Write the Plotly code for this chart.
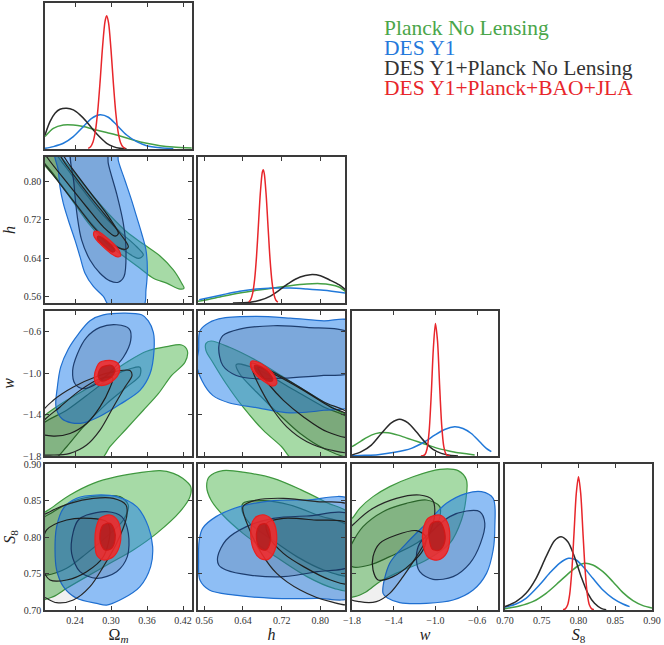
import plotly.graph_objects as go

# ======================= DATA =======================
# axis ranges / ticks
OM_RANGE = [0.19, 0.435]
H_RANGE = [0.547, 0.851]
W_RANGE = [-1.8, -0.4]
S8_RANGE = [0.70, 0.90]
DIAG_RANGE = [0.0, 1.095]

OM_TICKS = [0.24, 0.30, 0.36, 0.42]
OM_TICKTEXT = ["0.24", "0.30", "0.36", "0.42"]
H_TICKS = [0.56, 0.64, 0.72, 0.80]
H_TICKTEXT = ["0.56", "0.64", "0.72", "0.80"]
W_TICKS = [-1.8, -1.4, -1.0, -0.6]
W_TICKTEXT = ["\u22121.8", "\u22121.4", "\u22121.0", "\u22120.6"]
S8_TICKS = [0.70, 0.75, 0.80, 0.85, 0.90]
S8_TICKTEXT = ["0.70", "0.75", "0.80", "0.85", "0.90"]

PARAM_LABELS = ["\u03a9<sub><i>m</i></sub>", "<i>h</i>", "<i>w</i>", "<i>S</i><sub>8</sub>"]
DATASET_NAMES = ["Planck No Lensing", "DES Y1", "DES Y1+Planck No Lensing", "DES Y1+Planck+BAO+JLA"]

# ---- 1D marginals (normalised heights) ----
OM_GREEN_X = [0.19, 0.2039, 0.2206, 0.2372, 0.2539, 0.2706, 0.2928, 0.315, 0.3372, 0.3594, 0.3817, 0.4039, 0.4344]
OM_GREEN_Y = [0.093, 0.155, 0.18, 0.18, 0.168, 0.148, 0.123, 0.098, 0.068, 0.043, 0.025, 0.015, 0.008]
OM_BLUE_X = [0.19, 0.2039, 0.2206, 0.2372, 0.2539, 0.2678, 0.2817, 0.2956, 0.3094, 0.3261, 0.3428, 0.3594, 0.3817, 0.4039]
OM_BLUE_Y = [0.005, 0.018, 0.043, 0.093, 0.168, 0.23, 0.256, 0.238, 0.18, 0.105, 0.055, 0.025, 0.01, 0.003]
OM_BLACK_X = [0.19, 0.1983, 0.2067, 0.215, 0.2261, 0.2372, 0.2483, 0.2594, 0.2706, 0.2817, 0.2928, 0.3039, 0.315, 0.3261]
OM_BLACK_Y = [0.105, 0.205, 0.268, 0.298, 0.306, 0.293, 0.256, 0.205, 0.143, 0.088, 0.043, 0.018, 0.005, 0.0]
OM_RED_X = [0.262, 0.266, 0.270, 0.274, 0.278, 0.282, 0.286, 0.290, 0.2928, 0.296, 0.300, 0.304, 0.308, 0.312, 0.316, 0.320, 0.324]
OM_RED_Y = [0.005, 0.017, 0.053, 0.135, 0.29, 0.517, 0.77, 0.956, 1.0, 0.944, 0.745, 0.49, 0.27, 0.124, 0.047, 0.015, 0.004]

H_GREEN_X = [0.546, 0.56, 0.5983, 0.6331, 0.6679, 0.7027, 0.7375, 0.7723, 0.8001, 0.821, 0.8384, 0.852]
H_GREEN_Y = [0.0125, 0.02, 0.05, 0.075, 0.095, 0.1125, 0.13, 0.1425, 0.145, 0.1375, 0.12, 0.0875]
H_BLUE_X = [0.5496, 0.5983, 0.6331, 0.6679, 0.7027, 0.7375, 0.7723, 0.8071, 0.852]
H_BLUE_Y = [0.025, 0.0625, 0.0875, 0.105, 0.1125, 0.1125, 0.105, 0.095, 0.075]
H_BLACK_X = [0.6192, 0.654, 0.6748, 0.6957, 0.7166, 0.7375, 0.7584, 0.7792, 0.8001, 0.821, 0.8384, 0.852]
H_BLACK_Y = [0.0, 0.005, 0.02, 0.05, 0.1, 0.155, 0.195, 0.2125, 0.205, 0.17, 0.1375, 0.1]
H_RED_X = [0.652, 0.656, 0.660, 0.664, 0.668, 0.672, 0.676, 0.680, 0.6818, 0.684, 0.688, 0.692, 0.696, 0.700, 0.704, 0.708, 0.712]
H_RED_Y = [0.007, 0.025, 0.072, 0.173, 0.348, 0.587, 0.83, 0.982, 1.0, 0.973, 0.808, 0.562, 0.327, 0.16, 0.065, 0.022, 0.006]

W_GREEN_X = [-1.8, -1.7105, -1.6146, -1.5347, -1.4548, -1.359, -1.2631, -1.1672, -1.0713, -0.9755, -0.8796, -0.7837, -0.6878, -0.6239]
W_GREEN_Y = [0.07, 0.115, 0.1575, 0.175, 0.175, 0.1575, 0.1325, 0.1075, 0.0825, 0.0575, 0.04, 0.025, 0.015, 0.0075]
W_BLUE_X = [-1.8, -1.6786, -1.5507, -1.3909, -1.2311, -1.1033, -1.0074, -0.9115, -0.8156, -0.7357, -0.6558, -0.5759, -0.512, -0.4641]
W_BLUE_Y = [0.0025, 0.005, 0.01, 0.0275, 0.0575, 0.1075, 0.1575, 0.2, 0.22, 0.2075, 0.17, 0.1075, 0.0575, 0.0325]
W_BLACK_X = [-1.8, -1.7105, -1.6146, -1.5188, -1.4229, -1.343, -1.2631, -1.1832, -1.1033, -1.0234, -0.9435, -0.8636, -0.7837]
W_BLACK_Y = [0.0075, 0.0325, 0.0825, 0.17, 0.25, 0.2775, 0.25, 0.1825, 0.1075, 0.05, 0.02, 0.005, 0.0]
W_RED_X = [-1.14, -1.12, -1.10, -1.08, -1.06, -1.04, -1.02, -1.00, -0.98, -0.96, -0.94, -0.92, -0.90, -0.88, -0.86]
W_RED_Y = [0.0002, 0.0016, 0.011, 0.055, 0.19, 0.466, 0.81, 1.0, 0.869, 0.535, 0.233, 0.072, 0.016, 0.0024, 0.0003]

S8_GREEN_X = [0.70, 0.7195, 0.7377, 0.7559, 0.7741, 0.7877, 0.7991, 0.8082, 0.8195, 0.8332, 0.8468, 0.8605, 0.8741, 0.8877, 0.90]
S8_GREEN_Y = [0.01, 0.03, 0.0625, 0.125, 0.2125, 0.28, 0.33, 0.35, 0.3375, 0.2875, 0.2125, 0.13, 0.07, 0.0325, 0.015]
S8_BLUE_X = [0.70, 0.715, 0.7286, 0.7468, 0.7605, 0.7741, 0.7864, 0.7968, 0.8082, 0.8195, 0.8332, 0.8468, 0.8605, 0.8695]
S8_BLUE_Y = [0.02, 0.045, 0.0875, 0.1875, 0.275, 0.35, 0.3875, 0.375, 0.3125, 0.2375, 0.15, 0.0875, 0.045, 0.025]
S8_BLACK_X = [0.70, 0.715, 0.7286, 0.7423, 0.7559, 0.7673, 0.7764, 0.7855, 0.7945, 0.8036, 0.8127, 0.8218, 0.8309, 0.8377]
S8_BLACK_Y = [0.025, 0.0625, 0.125, 0.2375, 0.4, 0.52, 0.55, 0.5125, 0.4, 0.25, 0.125, 0.05, 0.0125, 0.0025]
S8_RED_X = [0.779, 0.782, 0.785, 0.788, 0.791, 0.794, 0.797, 0.800, 0.803, 0.806, 0.809, 0.812, 0.815, 0.818, 0.821]
S8_RED_Y = [0.0014, 0.008, 0.035, 0.118, 0.3, 0.586, 0.875, 1.0, 0.875, 0.586, 0.3, 0.118, 0.035, 0.008, 0.0014]

# ---- 2D contour outlines (68% inner / 95% outer), vertices in data units ----
# Omega_m - h
OMH_GREEN_OUT = [(0.1983, 0.8814), (0.215, 0.8538), (0.2428, 0.8124), (0.265, 0.7779), (0.2983, 0.7297), (0.3261, 0.6952), (0.3539, 0.6697), (0.3817, 0.6448), (0.4039, 0.6159), (0.4178, 0.5883), (0.4217, 0.5779), (0.415, 0.5759), (0.3928, 0.5883), (0.3706, 0.5986), (0.3483, 0.6193), (0.3206, 0.6448), (0.2928, 0.671), (0.265, 0.709), (0.2372, 0.7572), (0.2094, 0.8055), (0.1817, 0.8503)]
OMH_GREEN_IN = [(0.1928, 0.878), (0.2206, 0.8366), (0.2539, 0.7814), (0.2872, 0.7297), (0.315, 0.6952), (0.3428, 0.6641), (0.3539, 0.6469), (0.3456, 0.64), (0.3206, 0.6572), (0.2928, 0.6793), (0.265, 0.7159), (0.2344, 0.7641), (0.2039, 0.8159), (0.1844, 0.8503)]
OMH_BLUE_OUT = [(0.2067, 0.871), (0.2122, 0.8228), (0.215, 0.7883), (0.2206, 0.7538), (0.2289, 0.7193), (0.24, 0.6779), (0.2483, 0.6434), (0.2567, 0.609), (0.2706, 0.5814), (0.2872, 0.5607), (0.2983, 0.54), (0.3539, 0.54), (0.3583, 0.5745), (0.3606, 0.6159), (0.3583, 0.6572), (0.3511, 0.6917), (0.3428, 0.7262), (0.3344, 0.7607), (0.3233, 0.8021), (0.3122, 0.8434), (0.3094, 0.871)]
OMH_BLUE_IN = [(0.235, 0.871), (0.2383, 0.7952), (0.2439, 0.7262), (0.2511, 0.6779), (0.265, 0.6366), (0.2817, 0.609), (0.2983, 0.5931), (0.3122, 0.5903), (0.3217, 0.6021), (0.325, 0.6572), (0.3206, 0.7124), (0.3094, 0.7745), (0.2956, 0.8366), (0.2917, 0.871)]
OMH_BLACK_OUT = [(0.1983, 0.878), (0.2261, 0.8331), (0.2594, 0.7779), (0.2928, 0.7262), (0.315, 0.6917), (0.3289, 0.6641), (0.3233, 0.6586), (0.2983, 0.671), (0.2706, 0.7055), (0.2428, 0.7503), (0.215, 0.7952), (0.1872, 0.84), (0.1789, 0.8572)]
OMH_BLACK_IN = [(0.2039, 0.878), (0.2317, 0.8331), (0.265, 0.7779), (0.2983, 0.7228), (0.3122, 0.6917), (0.3067, 0.6862), (0.2872, 0.7055), (0.2594, 0.7469), (0.2261, 0.7986), (0.1956, 0.8469), (0.1872, 0.8641)]
OMH_RED_OUT = [(0.2722, 0.6959), (0.2789, 0.6959), (0.29, 0.6862), (0.3039, 0.671), (0.3139, 0.6552), (0.3161, 0.6448), (0.3094, 0.6434), (0.2983, 0.6517), (0.2844, 0.6669), (0.275, 0.6793), (0.2711, 0.6883)]
OMH_RED_IN = [(0.2789, 0.6862), (0.2872, 0.6814), (0.2994, 0.669), (0.3067, 0.6566), (0.3028, 0.6531), (0.2917, 0.6628), (0.2817, 0.6745), (0.2772, 0.6814)]

# Omega_m - w
OMW_GREEN_OUT = [(0.1706, -1.5184), (0.19, -1.4064), (0.2261, -1.2624), (0.2594, -1.1504), (0.2928, -1.0224), (0.3261, -0.8944), (0.3594, -0.7888), (0.3928, -0.744), (0.4178, -0.728), (0.4272, -0.7824), (0.4233, -0.8944), (0.4011, -1.0224), (0.3789, -1.1984), (0.3539, -1.3584), (0.3261, -1.5344), (0.2983, -1.7104), (0.2817, -1.8384), (0.1706, -1.8384)]
OMW_GREEN_IN = [(0.1817, -1.5184), (0.2261, -1.3584), (0.2706, -1.1664), (0.3039, -1.0224), (0.3317, -0.9584), (0.3483, -0.9424), (0.3483, -1.0224), (0.3261, -1.1344), (0.2928, -1.2944), (0.2539, -1.5184), (0.2261, -1.7104), (0.1983, -1.8704), (0.1761, -1.8704)]
OMW_BLUE_OUT = [(0.2872, -0.4368), (0.265, -0.4944), (0.2456, -0.6224), (0.2289, -0.7664), (0.2161, -0.9424), (0.2106, -1.1344), (0.2083, -1.3264), (0.2178, -1.4384), (0.2344, -1.48), (0.2539, -1.48), (0.2817, -1.416), (0.315, -1.3008), (0.3483, -1.1664), (0.365, -1.0064), (0.3717, -0.7824), (0.3706, -0.6064), (0.3622, -0.4944), (0.3511, -0.4368)]
OMW_BLUE_IN = [(0.2817, -0.5584), (0.2594, -0.6544), (0.2439, -0.8144), (0.2361, -0.9744), (0.24, -1.1024), (0.2539, -1.1504), (0.2761, -1.1024), (0.2983, -0.9904), (0.3206, -0.8464), (0.3328, -0.6864), (0.3306, -0.5744), (0.3094, -0.5328)]
OMW_BLACK_OUT = [(0.1817, -1.4064), (0.2039, -1.2624), (0.2372, -1.1344), (0.2761, -1.032), (0.3094, -0.9808), (0.3317, -0.9744), (0.335, -1.0224), (0.3233, -1.1344), (0.3039, -1.3264), (0.2817, -1.5504), (0.2594, -1.6944), (0.2317, -1.7744), (0.2039, -1.7904), (0.1817, -1.7744)]
OMW_BLACK_IN = [(0.1844, -1.4864), (0.215, -1.3264), (0.2483, -1.1664), (0.2817, -1.0544), (0.3028, -1.0448), (0.2983, -1.1408), (0.2817, -1.3264), (0.2594, -1.4864), (0.2317, -1.5824), (0.2039, -1.608), (0.1844, -1.5824)]
OMW_RED_OUT = [(0.2817, -0.8944), (0.3011, -0.8784), (0.3122, -0.9104), (0.3139, -0.9904), (0.3039, -1.0704), (0.2872, -1.1184), (0.275, -1.1024), (0.2722, -1.032), (0.2761, -0.9424)]
OMW_RED_IN = [(0.2844, -0.9424), (0.3011, -0.9264), (0.3067, -0.9744), (0.2994, -1.0448), (0.2844, -1.0768), (0.2789, -1.0384), (0.28, -0.9808)]

# h - w
HW_GREEN_OUT = [(0.5635, -0.712), (0.5739, -0.6896), (0.6122, -0.7504), (0.6679, -0.8784), (0.7236, -1.0384), (0.7792, -1.1984), (0.8349, -1.3584), (0.8628, -1.4384), (0.8628, -1.8384), (0.7444, -1.8384), (0.72, -1.7104), (0.6818, -1.5504), (0.64, -1.3264), (0.6052, -1.1024), (0.5774, -0.8944), (0.5635, -0.7824)]
HW_GREEN_IN = [(0.6261, -0.9168), (0.6679, -0.9584), (0.7375, -1.1408), (0.8071, -1.3264), (0.8628, -1.4544), (0.8628, -1.8064), (0.8071, -1.7264), (0.7584, -1.5824), (0.7166, -1.4064), (0.6679, -1.1824), (0.6331, -1.0064)]
HW_BLUE_OUT = [(0.5482, -0.7824), (0.551, -0.5904), (0.5704, -0.5104), (0.5983, -0.4688), (0.6679, -0.4528), (0.7375, -0.4688), (0.8071, -0.4944), (0.8628, -0.5008), (0.8628, -1.3104), (0.8071, -1.3584), (0.7375, -1.384), (0.6679, -1.3328), (0.6122, -1.288), (0.5774, -1.2144), (0.5551, -1.0704), (0.544, -0.9104)]
HW_BLUE_IN = [(0.5899, -0.7504), (0.5983, -0.6384), (0.6331, -0.5744), (0.7027, -0.5424), (0.7723, -0.5584), (0.8628, -0.6224), (0.8628, -0.9904), (0.8071, -1.0224), (0.7375, -1.0448), (0.6679, -1.0544), (0.6261, -1.0224), (0.5983, -0.9264)]
HW_BLACK_OUT = [(0.6574, -0.904), (0.6888, -0.9584), (0.7514, -1.1184), (0.8071, -1.2784), (0.8628, -1.4064), (0.8628, -1.7584), (0.8211, -1.7424), (0.7723, -1.6624), (0.7305, -1.5184), (0.7027, -1.3584), (0.6783, -1.1664), (0.6609, -0.9904)]
HW_BLACK_IN = [(0.6714, -0.9424), (0.7096, -1.0224), (0.7653, -1.1664), (0.8211, -1.3264), (0.8628, -1.4224), (0.8628, -1.6144), (0.8141, -1.5664), (0.7653, -1.4224), (0.7236, -1.2624), (0.6923, -1.1024), (0.6749, -0.9904)]
HW_RED_OUT = [(0.6574, -0.8848), (0.6679, -0.888), (0.6888, -0.9424), (0.7062, -1.032), (0.7097, -1.1024), (0.7013, -1.1248), (0.6853, -1.0864), (0.6679, -1.0224), (0.6574, -0.9584), (0.6553, -0.9104)]
HW_RED_IN = [(0.6644, -0.9264), (0.6783, -0.9424), (0.6957, -1.0064), (0.7013, -1.0704), (0.6923, -1.0768), (0.6763, -1.032), (0.6666, -0.9808)]

# Omega_m - S8
OMS_GREEN_OUT = [(0.1706, 0.8187), (0.2039, 0.8416), (0.2317, 0.8575), (0.2706, 0.8735), (0.3094, 0.8826), (0.3483, 0.8881), (0.3817, 0.8909), (0.4039, 0.8872), (0.4194, 0.8804), (0.4328, 0.869), (0.4317, 0.8553), (0.415, 0.8347), (0.3761, 0.805), (0.3372, 0.7822), (0.2983, 0.7639), (0.2594, 0.7457), (0.2261, 0.7297), (0.2039, 0.7183), (0.1706, 0.7137)]
OMS_GREEN_IN = [(0.1706, 0.8142), (0.2039, 0.8347), (0.2428, 0.8507), (0.2817, 0.8562), (0.315, 0.8553), (0.3289, 0.8438), (0.3206, 0.8233), (0.2928, 0.8005), (0.2594, 0.7776), (0.2261, 0.7571), (0.1928, 0.7479), (0.1706, 0.7502)]
OMS_BLUE_OUT = [(0.2428, 0.853), (0.2206, 0.8393), (0.2094, 0.8142), (0.2067, 0.7822), (0.2094, 0.7548), (0.2206, 0.732), (0.2428, 0.716), (0.2761, 0.7091), (0.2928, 0.7068), (0.3206, 0.716), (0.3483, 0.732), (0.3661, 0.7594), (0.3694, 0.7868), (0.3622, 0.8142), (0.3428, 0.8416), (0.3094, 0.8553), (0.2761, 0.8575)]
OMS_BLUE_IN = [(0.2594, 0.8301), (0.2928, 0.8347), (0.3178, 0.8279), (0.3289, 0.805), (0.3272, 0.7731), (0.3094, 0.7525), (0.2761, 0.7434), (0.2483, 0.7525), (0.2344, 0.7776), (0.2372, 0.8073), (0.2456, 0.8233)]
OMS_BLACK_OUT = [(0.1706, 0.8187), (0.1983, 0.8347), (0.2317, 0.8461), (0.2706, 0.853), (0.3039, 0.853), (0.325, 0.8438), (0.3261, 0.8279), (0.3094, 0.7913), (0.2872, 0.7594), (0.265, 0.732), (0.2372, 0.7137), (0.2094, 0.71), (0.1928, 0.716), (0.1706, 0.7274)]
OMS_BLACK_IN = [(0.1928, 0.8096), (0.2261, 0.8233), (0.265, 0.8256), (0.2928, 0.821), (0.2983, 0.8073), (0.2872, 0.773), (0.2594, 0.7525), (0.2261, 0.7411), (0.1983, 0.7411), (0.1872, 0.7548), (0.1844, 0.7822)]
OMS_RED_OUT = [(0.2817, 0.8256), (0.2983, 0.8301), (0.3106, 0.8233), (0.3161, 0.8073), (0.3139, 0.7868), (0.3039, 0.773), (0.2872, 0.7685), (0.2761, 0.7753), (0.2733, 0.7959), (0.275, 0.8119)]
OMS_RED_IN = [(0.2872, 0.8164), (0.2983, 0.8187), (0.3056, 0.8096), (0.3067, 0.7959), (0.3011, 0.7845), (0.29, 0.7822), (0.2828, 0.7913), (0.2817, 0.805)]

# h - S8
HS_GREEN_OUT = [(0.5649, 0.869), (0.5704, 0.8826), (0.5983, 0.8909), (0.647, 0.8881), (0.7027, 0.8804), (0.7584, 0.8653), (0.814, 0.847), (0.8628, 0.8301), (0.8628, 0.7274), (0.828, 0.7297), (0.7723, 0.7457), (0.7027, 0.7753), (0.64, 0.805), (0.5983, 0.8301), (0.5739, 0.8507)]
HS_GREEN_IN = [(0.64, 0.8461), (0.6818, 0.8498), (0.7375, 0.8438), (0.7932, 0.8301), (0.8628, 0.8119), (0.8628, 0.7479), (0.8071, 0.7548), (0.7514, 0.7731), (0.6957, 0.7982), (0.654, 0.8187), (0.6387, 0.8347)]
HS_BLUE_OUT = [(0.5496, 0.7959), (0.5565, 0.8119), (0.5844, 0.8279), (0.6331, 0.8416), (0.7027, 0.8498), (0.7723, 0.8507), (0.8628, 0.8507), (0.8628, 0.7183), (0.7932, 0.716), (0.7027, 0.716), (0.6192, 0.7206), (0.5704, 0.7274), (0.551, 0.7411), (0.5482, 0.7685)]
HS_BLUE_IN = [(0.5878, 0.7731), (0.6052, 0.7959), (0.647, 0.8142), (0.7027, 0.8256), (0.7723, 0.8288), (0.8628, 0.8301), (0.8628, 0.7616), (0.7932, 0.7525), (0.7236, 0.7457), (0.654, 0.7479), (0.6052, 0.7548), (0.5899, 0.7616)]
HS_BLACK_OUT = [(0.64, 0.8416), (0.6679, 0.8507), (0.7236, 0.853), (0.7932, 0.8484), (0.8628, 0.8416), (0.8628, 0.7091), (0.8211, 0.7114), (0.7584, 0.7274), (0.7097, 0.7502), (0.6783, 0.7776), (0.654, 0.8096)]
HS_BLACK_IN = [(0.6888, 0.8187), (0.7236, 0.8256), (0.7862, 0.8233), (0.8628, 0.8164), (0.8628, 0.7365), (0.8211, 0.7411), (0.7653, 0.7594), (0.7236, 0.7776), (0.6957, 0.7982)]
HS_RED_OUT = [(0.6679, 0.8279), (0.6853, 0.8301), (0.7027, 0.821), (0.7097, 0.8027), (0.7062, 0.7822), (0.6923, 0.7694), (0.6749, 0.7708), (0.6609, 0.7845), (0.656, 0.8073), (0.6595, 0.821)]
HS_RED_IN = [(0.6749, 0.8164), (0.6874, 0.8178), (0.6957, 0.8073), (0.6957, 0.7913), (0.6874, 0.7822), (0.6749, 0.7845), (0.6679, 0.7982), (0.6693, 0.8096)]

# w - S8
WS_GREEN_OUT = [(-1.8, 0.8256), (-1.7264, 0.8393), (-1.5984, 0.8553), (-1.4384, 0.869), (-1.2144, 0.8826), (-0.9584, 0.8927), (-0.7824, 0.8909), (-0.7024, 0.8781), (-0.7088, 0.8507), (-0.7504, 0.8233), (-0.8624, 0.7913), (-1.0864, 0.7685), (-1.3424, 0.7525), (-1.5344, 0.7388), (-1.6624, 0.7251), (-1.7744, 0.7183), (-1.8544, 0.7183), (-1.8544, 0.8233)]
WS_GREEN_IN = [(-1.8, 0.7913), (-1.6944, 0.8142), (-1.5024, 0.8347), (-1.2784, 0.8461), (-1.0864, 0.8507), (-0.9584, 0.8416), (-0.9904, 0.8142), (-1.1824, 0.7913), (-1.4384, 0.7731), (-1.6304, 0.7616), (-1.8, 0.7594), (-1.8544, 0.7731)]
WS_BLUE_OUT = [(-1.5024, 0.7228), (-1.4384, 0.7639), (-1.2784, 0.7913), (-1.0864, 0.8187), (-0.8944, 0.8461), (-0.7024, 0.8598), (-0.5584, 0.8621), (-0.4464, 0.853), (-0.4304, 0.8142), (-0.4464, 0.7822), (-0.5104, 0.7502), (-0.6384, 0.7274), (-0.8304, 0.7137), (-1.0864, 0.7091), (-1.3424, 0.71), (-1.4544, 0.716)]
WS_BLUE_IN = [(-1.1824, 0.7731), (-1.1504, 0.7913), (-1.0224, 0.8096), (-0.8624, 0.8279), (-0.7024, 0.8356), (-0.5744, 0.8347), (-0.5264, 0.8187), (-0.568, 0.7913), (-0.6704, 0.7639), (-0.8304, 0.7457), (-1.0224, 0.742), (-1.1504, 0.7525)]
WS_BLACK_OUT = [(-1.8544, 0.805), (-1.7584, 0.821), (-1.5984, 0.8393), (-1.3744, 0.853), (-1.1504, 0.8575), (-1.0288, 0.8507), (-1.0064, 0.8324), (-1.0544, 0.805), (-1.1824, 0.7731), (-1.3104, 0.7457), (-1.4384, 0.7228), (-1.5664, 0.7114), (-1.7264, 0.7114), (-1.8544, 0.7183)]
WS_BLACK_IN = [(-1.5984, 0.7731), (-1.5344, 0.7913), (-1.3744, 0.8027), (-1.1824, 0.8087), (-1.0928, 0.8005), (-1.1184, 0.7822), (-1.2304, 0.7639), (-1.4064, 0.7457), (-1.5504, 0.7411), (-1.5984, 0.7548)]
WS_RED_OUT = [(-1.0704, 0.8256), (-0.9584, 0.8301), (-0.888, 0.821), (-0.8624, 0.8005), (-0.8944, 0.7776), (-0.9744, 0.7685), (-1.0704, 0.7722), (-1.1184, 0.789), (-1.1184, 0.8096)]
WS_RED_IN = [(-1.0384, 0.8187), (-0.9584, 0.821), (-0.9168, 0.8096), (-0.9104, 0.7936), (-0.9584, 0.7822), (-1.0288, 0.7831), (-1.0608, 0.7982), (-1.0608, 0.8119)]

# ======================= STRUCTURE =======================
PARAM_RANGES = [OM_RANGE, H_RANGE, W_RANGE, S8_RANGE]
PARAM_TICKS = [OM_TICKS, H_TICKS, W_TICKS, S8_TICKS]
PARAM_TICKTEXT = [OM_TICKTEXT, H_TICKTEXT, W_TICKTEXT, S8_TICKTEXT]

DIAG = {
    0: {"green": (OM_GREEN_X, OM_GREEN_Y), "blue": (OM_BLUE_X, OM_BLUE_Y), "black": (OM_BLACK_X, OM_BLACK_Y), "red": (OM_RED_X, OM_RED_Y)},
    1: {"green": (H_GREEN_X, H_GREEN_Y), "blue": (H_BLUE_X, H_BLUE_Y), "black": (H_BLACK_X, H_BLACK_Y), "red": (H_RED_X, H_RED_Y)},
    2: {"green": (W_GREEN_X, W_GREEN_Y), "blue": (W_BLUE_X, W_BLUE_Y), "black": (W_BLACK_X, W_BLACK_Y), "red": (W_RED_X, W_RED_Y)},
    3: {"green": (S8_GREEN_X, S8_GREEN_Y), "blue": (S8_BLUE_X, S8_BLUE_Y), "black": (S8_BLACK_X, S8_BLACK_Y), "red": (S8_RED_X, S8_RED_Y)},
}

CONTOURS = {
    (1, 0): {"green": (OMH_GREEN_OUT, OMH_GREEN_IN), "blue": (OMH_BLUE_OUT, OMH_BLUE_IN), "black": (OMH_BLACK_OUT, OMH_BLACK_IN), "red": (OMH_RED_OUT, OMH_RED_IN)},
    (2, 0): {"green": (OMW_GREEN_OUT, OMW_GREEN_IN), "blue": (OMW_BLUE_OUT, OMW_BLUE_IN), "black": (OMW_BLACK_OUT, OMW_BLACK_IN), "red": (OMW_RED_OUT, OMW_RED_IN)},
    (2, 1): {"green": (HW_GREEN_OUT, HW_GREEN_IN), "blue": (HW_BLUE_OUT, HW_BLUE_IN), "black": (HW_BLACK_OUT, HW_BLACK_IN), "red": (HW_RED_OUT, HW_RED_IN)},
    (3, 0): {"green": (OMS_GREEN_OUT, OMS_GREEN_IN), "blue": (OMS_BLUE_OUT, OMS_BLUE_IN), "black": (OMS_BLACK_OUT, OMS_BLACK_IN), "red": (OMS_RED_OUT, OMS_RED_IN)},
    (3, 1): {"green": (HS_GREEN_OUT, HS_GREEN_IN), "blue": (HS_BLUE_OUT, HS_BLUE_IN), "black": (HS_BLACK_OUT, HS_BLACK_IN), "red": (HS_RED_OUT, HS_RED_IN)},
    (3, 2): {"green": (WS_GREEN_OUT, WS_GREEN_IN), "blue": (WS_BLUE_OUT, WS_BLUE_IN), "black": (WS_BLACK_OUT, WS_BLACK_IN), "red": (WS_RED_OUT, WS_RED_IN)},
}

# ======================= STYLE =======================
LINE_COL = {"green": "#45a045", "blue": "#2179d9", "black": "#2a2a2a", "red": "#e8262b"}
TEXT_COL = {"green": "#4aa64a", "blue": "#2479db", "black": "#333333", "red": "#e8262b"}
FILL_OUT = {"green": "rgba(70,178,70,0.48)", "blue": "rgba(30,125,235,0.5)", "black": "rgba(0,0,0,0.06)", "red": "rgba(245,40,40,0.88)"}
FILL_IN = {"green": "rgba(40,90,40,0.2)", "blue": "rgba(55,80,115,0.2)", "black": "rgba(0,0,0,0.06)", "red": "rgba(150,20,20,0.55)"}
EDGE_OUT = {"green": "#3f983f", "blue": "#1f6fd0", "black": "#262626", "red": "#e82020"}
EDGE_IN = {"green": "#2e6b2e", "blue": "#1d3d6e", "black": "#1e1e1e", "red": "#d01818"}
SERIF = "Liberation Serif"
FRAME = "#3a3a3a"

FIG_W, FIG_H = 664, 645
M_L, M_R, M_T, M_B = 45, 12, 3, 35
PW, PH = FIG_W - M_L - M_R, FIG_H - M_T - M_B
COL_PX = [(45, 192), (198, 345), (352, 498), (505, 652)]
ROW_PX = [(3, 149), (157, 303), (311, 456), (464, 610)]


def xdom(c):
    a, b = COL_PX[c]
    return [(a - M_L) / PW, (b - M_L) / PW]


def ydom(r):
    a, b = ROW_PX[r]
    return [1 - (b - M_T) / PH, 1 - (a - M_T) / PH]


def closed(poly):
    xs = [p[0] for p in poly] + [poly[0][0]]
    ys = [p[1] for p in poly] + [poly[0][1]]
    return xs, ys


def title_of(text, standoff):
    if not text:
        return None
    return dict(text=text, font=dict(family=SERIF, size=16, color="#222"), standoff=standoff)


fig = go.Figure()
layout = dict(
    width=FIG_W, height=FIG_H, autosize=False,
    margin=dict(l=M_L, r=M_R, t=M_T, b=M_B, autoexpand=False),
    paper_bgcolor="white", plot_bgcolor="white",
    showlegend=False,
    font=dict(family=SERIF, color="#333"),
)

n = 0
for r in range(4):
    for c in range(r + 1):
        n += 1
        xa = "x" if n == 1 else f"x{n}"
        ya = "y" if n == 1 else f"y{n}"
        xkey = "xaxis" if n == 1 else f"xaxis{n}"
        ykey = "yaxis" if n == 1 else f"yaxis{n}"
        xax = dict(
            domain=xdom(c), anchor=ya, range=PARAM_RANGES[c], automargin=False,
            tickmode="array", tickvals=PARAM_TICKS[c], ticktext=PARAM_TICKTEXT[c],
            showticklabels=(r == 3), ticks="inside", ticklen=4, tickwidth=1, tickcolor=FRAME,
            showline=True, linecolor=FRAME, linewidth=1.6, mirror="ticks",
            showgrid=False, zeroline=False, fixedrange=True,
            tickfont=dict(family=SERIF, size=10, color="#333"),
        )
        t = title_of(PARAM_LABELS[c] if r == 3 else "", 1)
        if t:
            xax["title"] = t
        layout[xkey] = xax
        if r == c:
            layout[ykey] = dict(
                domain=ydom(r), anchor=xa, range=DIAG_RANGE, automargin=False,
                showticklabels=False, ticks="", showline=True, linecolor=FRAME, linewidth=1.6,
                mirror=True, showgrid=False, zeroline=False, fixedrange=True,
            )
            for ds in ["green", "blue", "black", "red"]:
                xs, ys = DIAG[r][ds]
                fig.add_trace(go.Scatter(x=xs, y=ys, mode="lines", xaxis=xa, yaxis=ya,
                                         line=dict(color=LINE_COL[ds], width=1.5, shape="spline", smoothing=0.8),
                                         hoverinfo="skip"))
        else:
            yax = dict(
                domain=ydom(r), anchor=xa, range=PARAM_RANGES[r], automargin=False,
                tickmode="array", tickvals=PARAM_TICKS[r], ticktext=PARAM_TICKTEXT[r],
                showticklabels=(c == 0), ticks="inside", ticklen=4, tickwidth=1, tickcolor=FRAME,
                showline=True, linecolor=FRAME, linewidth=1.6, mirror="ticks",
                showgrid=False, zeroline=False, fixedrange=True,
                tickfont=dict(family=SERIF, size=10, color="#333"),
            )
            t = title_of(PARAM_LABELS[r] if c == 0 else "", 4)
            if t:
                yax["title"] = t
            layout[ykey] = yax
            cont = CONTOURS[(r, c)]
            for ds in ["green", "blue", "black", "red"]:
                out_poly, in_poly = cont[ds]
                for poly, fill, edge in [(out_poly, FILL_OUT[ds], EDGE_OUT[ds]), (in_poly, FILL_IN[ds], EDGE_IN[ds])]:
                    xs, ys = closed(poly)
                    fig.add_trace(go.Scatter(x=xs, y=ys, mode="lines", xaxis=xa, yaxis=ya,
                                             fill="toself", fillcolor=fill,
                                             line=dict(color=edge, width=1.2, shape="spline", smoothing=0.9),
                                             hoverinfo="skip"))

# legend as coloured text
LEG_Y_PX = [28, 48, 68, 88]
annotations = []
for name, ds, ypx in zip(DATASET_NAMES, ["green", "blue", "black", "red"], LEG_Y_PX):
    annotations.append(dict(
        x=(382 - M_L) / PW, y=1 - (ypx - M_T) / PH, xref="paper", yref="paper",
        xanchor="left", yanchor="middle", showarrow=False, text=name,
        font=dict(family=SERIF, size=21.5, color=TEXT_COL[ds]),
    ))
layout["annotations"] = annotations

fig.update_layout(**layout)
# remove the browser's default 8px page margin so the figure sits at the window origin
fig.write_html(
    "out.html",
    config={"displayModeBar": False, "staticPlot": False},
    post_script="document.body.style.margin='0';document.body.style.padding='0';",
)
